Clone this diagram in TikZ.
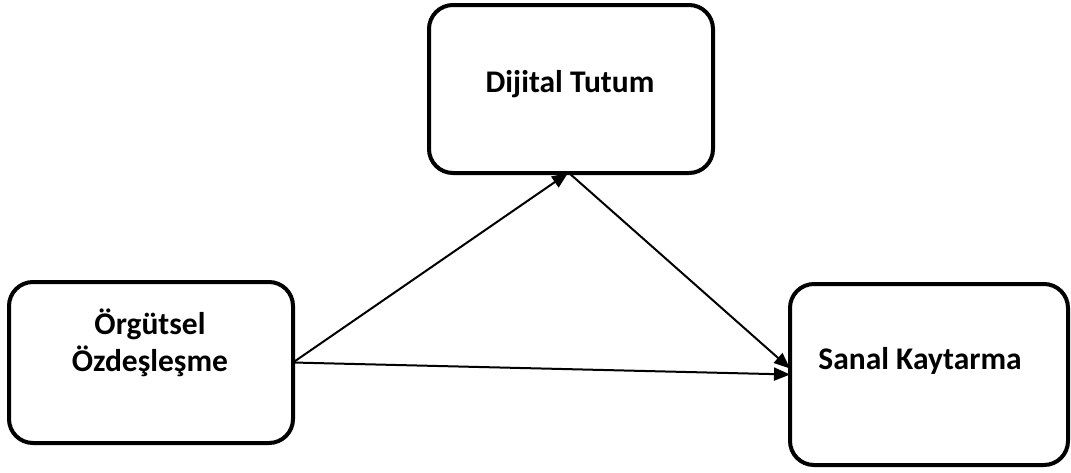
\documentclass[tikz,border=0pt]{standalone}
\usepackage{fontspec}
\setmainfont{Carlito}
\usetikzlibrary{arrows.meta}
\tikzset{
  varbox/.style={draw=black, line width=4pt, rounded corners=24pt, fill=white,
    inner sep=0pt, outer sep=0pt},
  vartext/.style={font=\fontsize{31.5}{37}\selectfont\bfseries, align=center, inner sep=0pt},
  path/.style={draw=black, line width=2pt, -{Triangle[length=16pt,width=13pt]}}
}
\begin{document}
\begin{tikzpicture}[x=1pt, y=-1pt]
  \useasboundingbox (0,0) rectangle (1071,472);
  % the three variable boxes
  \node[varbox, minimum width=284pt, minimum height=168pt] (dij) at (571,89) {};
  \node[varbox, minimum width=284pt, minimum height=161pt] (org) at (151,362.5) {};
  \node[varbox, minimum width=278pt, minimum height=181pt] (san) at (929,374.5) {};
  % labels
  \node[vartext] (dijt) at (570,84) {Dijital Tutum};
  \node[vartext] (orgt) at (150,343) {Örgütsel\\Özdeşleşme};
  \node[vartext] (sant) at (920,361) {Sanal Kaytarma};
  % paths between the variables
  \draw[path] (org.east) -- ([xshift=-3pt]dij.south);
  \draw[path] ([xshift=-2pt]dij.south) -- ([yshift=6pt]san.west);
  \draw[path] (org.east) -- (san.west);
\end{tikzpicture}
\end{document}
